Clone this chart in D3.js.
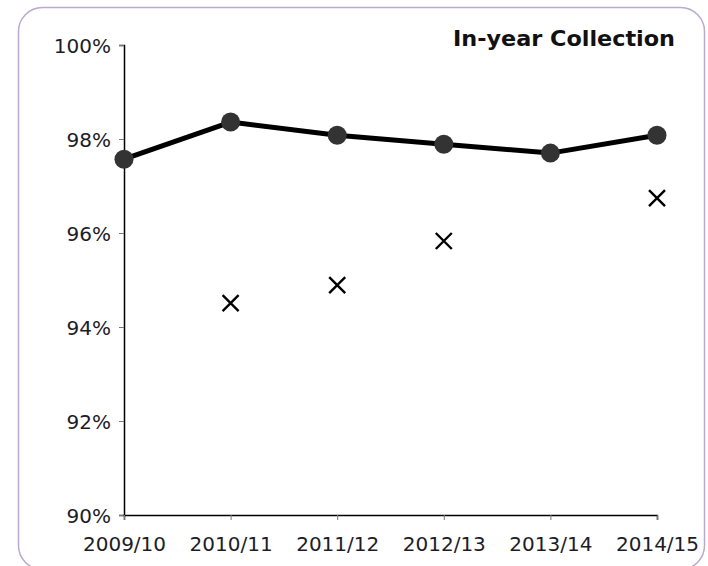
<!DOCTYPE html>
<html><head><meta charset="utf-8">
<script src="https://cdn.jsdelivr.net/npm/d3@7"></script>
<style>body{margin:0;background:#fff}svg{display:block}</style>
</head><body>
<svg id="c" width="708" height="566"></svg>
<script>
const categories = ["2009/10","2010/11","2011/12","2012/13","2013/14","2014/15"];
const lineValues = [97.57, 98.36, 98.08, 97.89, 97.70, 98.08];
const crossValues = [null, 94.51, 94.89, 95.83, null, 96.74];
const yTicks = [90, 92, 94, 96, 98, 100];
const title = "In-year Collection";

const svg = d3.select("#c");
const font = "'DejaVu Sans', Verdana, sans-serif";

svg.append("rect").attr("x",18.5).attr("y",7.5).attr("width",686).attr("height",562)
  .attr("rx",24).attr("fill","none").attr("stroke","#b8aad0").attr("stroke-width",1.5);

const x = d3.scalePoint().domain(categories).range([124,657]);
const y = d3.scaleLinear().domain([90,100]).range([515,45]);

const yAxis = svg.append("g").attr("transform","translate(124,0)")
  .call(d3.axisLeft(y).tickValues(yTicks).tickFormat(d=>d+"%").tickSize(5).tickPadding(8));
const xAxis = svg.append("g").attr("transform","translate(0,515)")
  .call(d3.axisBottom(x).tickSize(5).tickPadding(17));
[yAxis,xAxis].forEach(g=>{
  g.select(".domain").attr("stroke","#000").attr("stroke-width",1.5);
  g.selectAll(".tick line").attr("stroke","#777").attr("stroke-width",1);
  g.selectAll("text").attr("fill","#1c1c28").style("font-family",font).style("font-size","20px");
});
yAxis.selectAll("text").attr("dy","0.36em");

const line = d3.line().x((d,i)=>x(categories[i])).y(d=>y(d));
svg.append("path").datum(lineValues).attr("d",line).attr("fill","none")
  .attr("stroke","#000").attr("stroke-width",5).attr("stroke-linejoin","round");
svg.selectAll("circle.pt").data(lineValues).join("circle").attr("class","pt")
  .attr("cx",(d,i)=>x(categories[i])).attr("cy",d=>y(d)).attr("r",9.5).attr("fill","#333");

const crosses = crossValues.map((v,i)=>({v,c:categories[i]})).filter(d=>d.v!=null);
const s = 8;
svg.selectAll("path.x").data(crosses).join("path").attr("class","x")
  .attr("d",d=>{const cx=x(d.c),cy=y(d.v);return `M${cx-s},${cy-s}L${cx+s},${cy+s}M${cx-s},${cy+s}L${cx+s},${cy-s}`;})
  .attr("stroke","#000").attr("stroke-width",2.4).attr("fill","none");

svg.append("text").attr("x",675).attr("y",46).attr("text-anchor","end")
  .style("font-family","Tahoma, 'DejaVu Sans', sans-serif").style("font-weight","bold").style("font-size","21px")
  .attr("textLength",222).attr("lengthAdjust","spacingAndGlyphs")
  .attr("fill","#111").text(title);
</script>
</body></html>
